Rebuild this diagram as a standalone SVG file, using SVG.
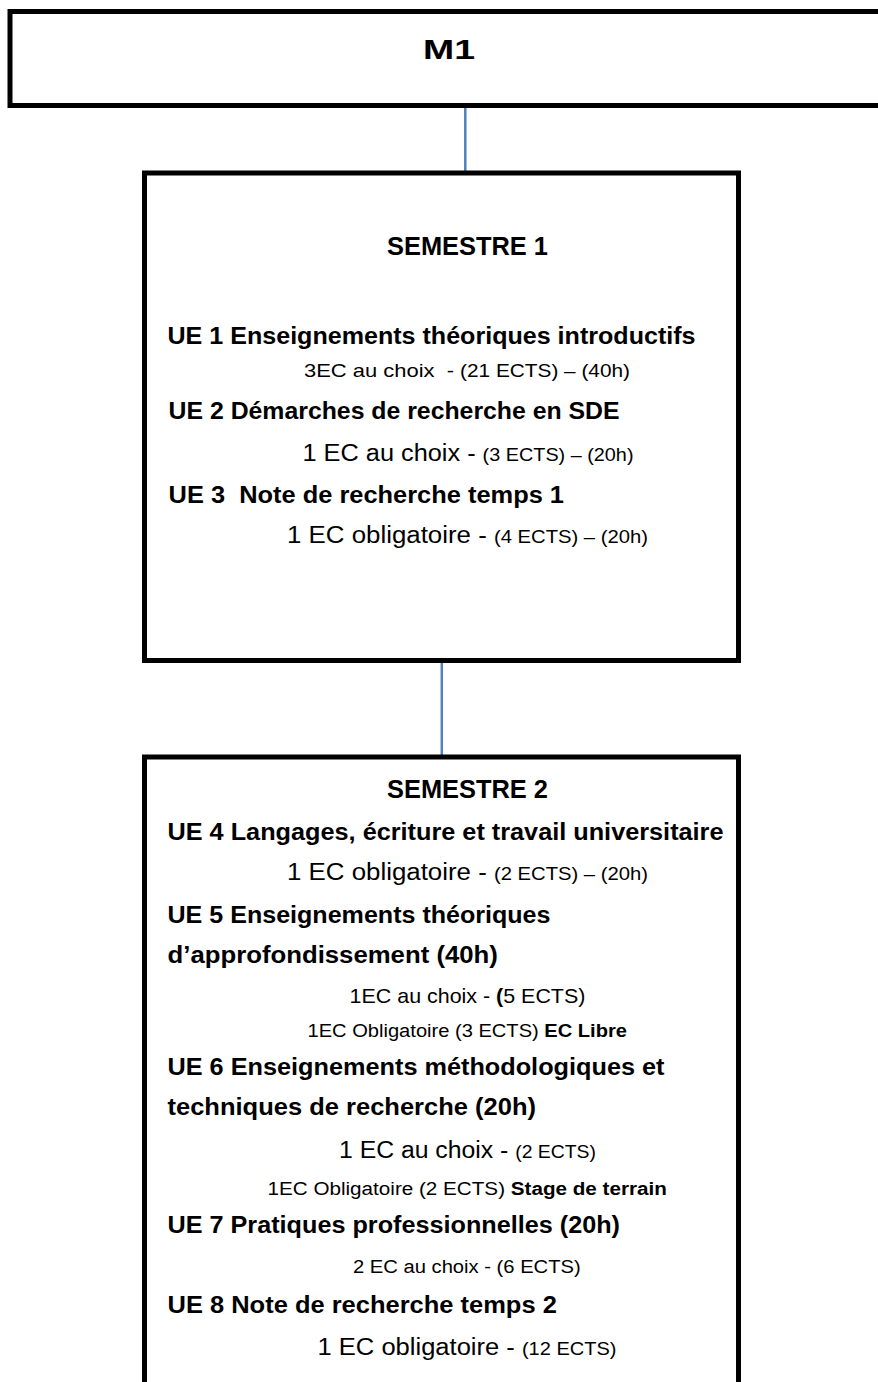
<svg xmlns="http://www.w3.org/2000/svg" width="878" height="1382" viewBox="0 0 878 1382">
<style>
text{font-family:"Liberation Sans",Arial,sans-serif;fill:#000}
.box{fill:#fff;stroke:#000;stroke-width:5}
.con{stroke:#4F81BD;stroke-width:2.5;fill:none}
.t{font-weight:bold;font-size:23px}
.h{font-weight:bold;font-size:25px}
.l{font-size:23px}
.m{font-size:21px}
.s{font-size:18px}
.bb{font-weight:bold}
</style>
<g id="connectors">
<line class="con" x1="465.3" y1="106" x2="465.3" y2="172"/>
<line class="con" x1="441.8" y1="661" x2="441.8" y2="756"/>
</g>
<g id="m1">
<rect class="box" x="10" y="11.5" width="920" height="94"/>
<text class="h" x="423" y="59" style="font-size:27px" textLength="52" lengthAdjust="spacingAndGlyphs">M1</text>
</g>
<g id="semestre1">
<rect class="box" x="144.5" y="173" width="594" height="487.5"/>
<text class="h" x="387" y="255" textLength="161" lengthAdjust="spacingAndGlyphs">SEMESTRE 1</text>
<text class="t" x="167.5" y="344" textLength="528" lengthAdjust="spacingAndGlyphs">UE 1 Enseignements théoriques introductifs</text>
<text class="s" x="304" y="377" textLength="326" lengthAdjust="spacingAndGlyphs" xml:space="preserve"><tspan style="font-size:19px">3EC au choix  - </tspan>(21 ECTS) – (40h)</text>
<text class="t" x="168.6" y="419" textLength="451" lengthAdjust="spacingAndGlyphs">UE 2 Démarches de recherche en SDE</text>
<text class="l" x="302.5" y="461" textLength="331" lengthAdjust="spacingAndGlyphs">1 EC au choix - <tspan class="s">(3 ECTS) – (20h)</tspan></text>
<text class="t" x="168.6" y="503" textLength="395.4" lengthAdjust="spacingAndGlyphs" xml:space="preserve">UE 3  Note de recherche temps 1</text>
<text class="l" x="287" y="543" textLength="361" lengthAdjust="spacingAndGlyphs">1 EC obligatoire - <tspan class="s">(4 ECTS) – (20h)</tspan></text>
</g>
<g id="semestre2">
<rect class="box" x="144.5" y="757" width="594" height="700"/>
<text class="h" x="387" y="798" textLength="161" lengthAdjust="spacingAndGlyphs">SEMESTRE 2</text>
<text class="t" x="167.5" y="840" textLength="556" lengthAdjust="spacingAndGlyphs">UE 4 Langages, écriture et travail universitaire</text>
<text class="l" x="287" y="880" textLength="361" lengthAdjust="spacingAndGlyphs">1 EC obligatoire - <tspan class="s">(2 ECTS) – (20h)</tspan></text>
<text class="t" x="167.5" y="923" textLength="383" lengthAdjust="spacingAndGlyphs">UE 5 Enseignements théoriques</text>
<text class="t" x="167.5" y="963" textLength="330.4" lengthAdjust="spacingAndGlyphs">d’approfondissement (40h)</text>
<text class="m" x="349.6" y="1003" textLength="235.8" lengthAdjust="spacingAndGlyphs">1EC au choix - <tspan class="bb">(</tspan>5 ECTS)</text>
<text class="s" x="307.5" y="1037" textLength="319.5" lengthAdjust="spacingAndGlyphs">1EC Obligatoire (3 ECTS) <tspan class="bb">EC Libre</tspan></text>
<text class="t" x="167.5" y="1075" textLength="497" lengthAdjust="spacingAndGlyphs">UE 6 Enseignements méthodologiques et</text>
<text class="t" x="167.5" y="1115" textLength="368.5" lengthAdjust="spacingAndGlyphs">techniques de recherche (20h)</text>
<text class="l" x="339" y="1158" textLength="257" lengthAdjust="spacingAndGlyphs">1 EC au choix - <tspan class="s">(2 ECTS)</tspan></text>
<text class="s" x="267.5" y="1195" textLength="399.3" lengthAdjust="spacingAndGlyphs">1EC Obligatoire (2 ECTS) <tspan class="bb">Stage de terrain</tspan></text>
<text class="t" x="167.5" y="1233" textLength="452.5" lengthAdjust="spacingAndGlyphs">UE 7 Pratiques professionnelles (20h)</text>
<text class="s" x="353" y="1273" textLength="227.7" lengthAdjust="spacingAndGlyphs">2 EC au choix - (6 ECTS)</text>
<text class="t" x="167.5" y="1313" textLength="389.3" lengthAdjust="spacingAndGlyphs">UE 8 Note de recherche temps 2</text>
<text class="l" x="317.5" y="1355" textLength="298.9" lengthAdjust="spacingAndGlyphs">1 EC obligatoire - <tspan class="s">(12 ECTS)</tspan></text>
</g>
</svg>
